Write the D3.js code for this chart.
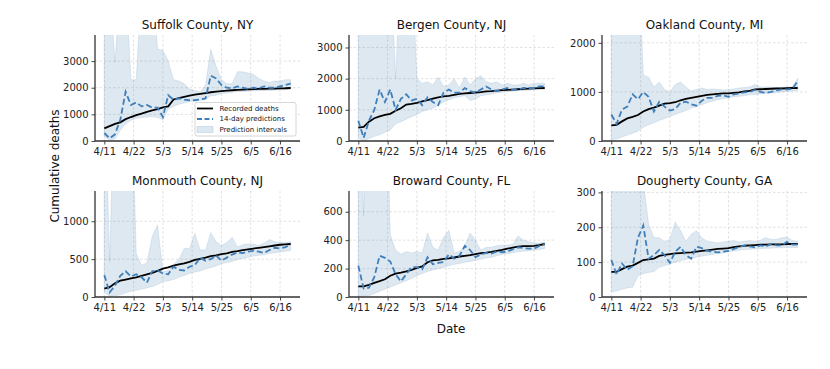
<!DOCTYPE html>
<html>
<head>
<meta charset="utf-8">
<script src="https://cdn.jsdelivr.net/npm/d3@7"></script>
<style>
  body { margin: 0; background: #fff; }
  svg { font-family: "DejaVu Sans", sans-serif; }
</style>
</head>
<body>
<svg id="chart" width="830" height="369"></svg>
<script>
// ---------------- DATA ----------------
const dates = ["4/11","4/13","4/15","4/17","4/19","4/21","4/23","4/25","4/27","4/29",
  "5/1","5/3","5/5","5/7","5/9","5/11","5/13","5/15","5/17","5/19",
  "5/21","5/23","5/25","5/27","5/29","5/31","6/2","6/4","6/6","6/8",
  "6/10","6/12","6/14","6/16","6/18","6/20"];
const xTickLabels = ["4/11","4/22","5/3","5/14","5/25","6/5","6/16"];

const counties = ["Suffolk County, NY","Bergen County, NJ","Oakland County, MI",
  "Monmouth County, NJ","Broward County, FL","Dougherty County, GA"];

const suffolkRecorded = [475,560,640,700,820,900,970,1030,1090,1150,1200,1260,1300,1560,1610,1660,1700,1740,1770,1800,1830,1850,1870,1890,1905,1920,1930,1940,1950,1955,1960,1965,1970,1975,1980,1990];
const suffolkPred     = [300,100,250,800,1850,1350,1450,1300,1350,1250,1250,900,1720,1550,1600,1550,1530,1530,1560,1600,2450,2350,2100,2000,1980,2050,2000,1950,2000,1980,2050,2000,2000,2050,2100,2150];
const suffolkLower    = [150,30,80,400,650,780,850,880,900,920,880,800,1200,1300,1380,1430,1480,1500,1520,1560,1700,1720,1780,1800,1830,1850,1860,1870,1880,1890,1900,1900,1910,1920,1930,1950];
const suffolkUpper    = [6000,6000,2950,6000,6000,2300,2300,6000,6000,6000,3450,3400,3000,2300,2250,2150,1950,1900,1850,2100,3450,2800,2300,2150,2150,2600,2600,2550,2500,2350,2250,2200,2250,2250,2300,2300];

const bergenRecorded = [430,450,620,730,790,840,870,970,1050,1170,1190,1220,1270,1310,1360,1400,1430,1450,1480,1510,1525,1540,1555,1570,1590,1600,1615,1630,1640,1650,1660,1670,1680,1690,1695,1700];
const bergenPred     = [650,100,650,1000,1650,1250,1650,1000,1350,1500,1300,1350,1150,1400,1250,1150,1550,1650,1550,1550,1700,1600,1550,1650,1750,1650,1600,1650,1700,1650,1650,1700,1700,1700,1750,1750];
const bergenLower    = [100,0,80,150,200,280,350,550,620,700,780,850,950,1000,1050,1150,1250,1320,1380,1420,1450,1300,1350,1450,1480,1500,1550,1560,1580,1600,1610,1620,1630,1640,1650,1660];
const bergenUpper    = [6000,6000,6000,6000,6000,6000,6000,2000,6000,6000,6000,2000,1850,1900,1800,2050,1750,1800,2000,1700,2050,1800,2000,2100,1900,1850,1900,1800,1850,1800,1800,1850,1800,1850,1850,1850];

const oaklandRecorded = [320,330,400,460,490,530,600,650,680,720,760,770,790,830,860,880,900,920,940,950,960,970,970,980,990,1010,1020,1050,1055,1060,1065,1070,1070,1075,1080,1080];
const oaklandPred     = [540,350,640,700,950,850,1000,900,600,800,700,620,650,780,800,750,720,820,880,880,920,930,900,950,970,990,1000,1040,1000,980,1000,1030,1050,1050,1060,1220];
const oaklandLower    = [30,40,80,120,160,200,280,330,370,420,460,500,540,580,620,670,700,740,780,810,840,860,880,900,910,920,940,950,960,970,980,990,1000,1010,1020,1030];
const oaklandUpper    = [4000,4000,4000,4000,4000,4000,1350,1300,1100,1200,1050,1000,1150,1200,1100,1020,1050,1080,1050,1060,1050,1040,1050,1060,1080,1090,1100,1150,1100,1100,1100,1090,1090,1100,1100,1280];

const monmouthRecorded = [110,130,180,215,230,245,260,280,300,320,345,375,390,415,430,445,465,490,505,520,540,550,565,575,595,605,620,630,640,650,660,670,680,690,695,700];
const monmouthPred     = [290,60,150,280,340,270,300,260,190,340,350,310,300,400,360,350,400,420,520,480,500,550,480,520,560,590,580,600,610,600,580,620,650,640,660,690];
const monmouthLower    = [60,10,15,30,55,75,90,105,120,140,165,200,215,230,260,285,310,330,345,370,390,410,440,455,470,495,510,525,540,550,560,575,585,595,605,615];
const monmouthUpper    = [3000,470,3000,3000,3000,3000,570,420,450,800,950,330,350,430,500,640,640,840,620,620,850,730,680,720,790,660,690,700,700,680,710,760,730,720,720,730];

const browardRecorded = [75,75,85,100,112,125,150,165,172,180,190,205,215,245,258,262,268,272,278,285,290,295,302,308,312,318,325,332,340,348,355,358,358,360,365,373];
const browardPred     = [220,60,65,140,290,275,250,160,110,160,210,210,195,280,230,240,245,300,270,290,360,330,280,300,310,305,320,315,320,335,350,345,340,340,360,370];
const browardLower    = [5,5,10,25,40,55,70,85,100,115,130,150,165,180,190,200,210,220,230,235,245,250,258,265,275,280,290,300,305,312,318,322,326,330,335,340];
const browardUpper    = [2000,570,2000,2000,2000,2000,440,330,300,320,310,320,310,450,350,330,420,470,310,320,360,450,400,330,350,350,360,365,365,370,430,400,390,380,380,385];

const doughertyRecorded = [72,72,80,87,90,98,106,108,110,118,121,123,125,126,127,128,130,132,134,136,138,139,140,143,145,147,148,149,150,150,151,151,151,152,152,152];
const doughertyPred     = [106,65,96,78,88,170,205,110,120,135,120,98,130,144,120,110,144,140,132,130,128,130,132,138,143,148,145,142,148,145,152,148,148,158,150,150];
const doughertyLower    = [15,17,22,26,28,60,67,70,73,85,90,95,100,104,108,111,114,117,120,122,124,126,129,132,134,136,137,138,139,140,140,141,141,142,142,142];
const doughertyUpper    = [500,500,500,500,500,400,330,210,170,170,160,165,215,190,160,180,190,170,160,158,155,158,160,162,158,160,162,160,163,170,165,165,170,172,162,160];

const yTicksList = [[0,1000,2000,3000],[0,1000,2000,3000],[0,1000,2000],
                    [0,500,1000],[0,200,400,600],[0,100,200,300]];

const legendLabels = ["Recorded deaths","14-day predictions","Prediction intervals"];

// ---------------- BUILD ----------------
const seriesByCounty = [
  [suffolkRecorded, suffolkPred, suffolkLower, suffolkUpper],
  [bergenRecorded, bergenPred, bergenLower, bergenUpper],
  [oaklandRecorded, oaklandPred, oaklandLower, oaklandUpper],
  [monmouthRecorded, monmouthPred, monmouthLower, monmouthUpper],
  [browardRecorded, browardPred, browardLower, browardUpper],
  [doughertyRecorded, doughertyPred, doughertyLower, doughertyUpper]
];

const parseMD = s => { const [m, d] = s.split("/").map(Number); return new Date(2020, m - 1, d); };
const xDates = dates.map(parseMD);

const svg = d3.select("#chart");
const colLeft = [95, 349, 602];
const rowTop = [35, 191];
const W = 205, H = 106;
const predColor = "#3f7fba";
const bandFill = "rgb(70,130,180)";

const x = d3.scaleTime()
  .domain([new Date(2020, 3, 7, 12), new Date(2020, 5, 23, 12)])
  .range([0, W]);
const xTickDates = xTickLabels.map(parseMD);

counties.forEach((name, i) => {
  const [rec, pred, lo, up] = seriesByCounty[i];
  const gx = colLeft[i % 3], gy = rowTop[Math.floor(i / 3)];
  const g = svg.append("g").attr("transform", `translate(${gx},${gy})`);
  const y = d3.scaleLinear().domain([0, 2 * d3.max(rec)]).range([H, 0]);

  const clipId = "clip" + i;
  g.append("clipPath").attr("id", clipId).append("rect")
    .attr("x", 0).attr("y", 0).attr("width", W).attr("height", H);

  // grid
  const grid = g.append("g");
  grid.selectAll(".gx").data(xTickDates).join("line")
    .attr("x1", d => x(d)).attr("x2", d => x(d)).attr("y1", 0).attr("y2", H)
    .attr("stroke", "#d4d4d4").attr("stroke-width", 0.7).attr("stroke-dasharray", "2.5,2");
  grid.selectAll(".gy").data(yTicksList[i].filter(v => v > 0)).join("line")
    .attr("x1", 0).attr("x2", W).attr("y1", d => y(d)).attr("y2", d => y(d))
    .attr("stroke", "#d4d4d4").attr("stroke-width", 0.7).attr("stroke-dasharray", "2.5,2");

  const plot = g.append("g").attr("clip-path", `url(#${clipId})`);
  const area = d3.area().x((d, k) => x(xDates[k])).y0((d, k) => y(lo[k])).y1((d, k) => y(up[k]));
  plot.append("path").datum(rec).attr("d", area)
    .attr("fill", bandFill).attr("fill-opacity", 0.18)
    .attr("stroke", bandFill).attr("stroke-opacity", 0.18).attr("stroke-width", 0.8);

  const line = arr => d3.line().x((d, k) => x(xDates[k])).y(d => y(d))(arr);
  plot.append("path").attr("d", line(rec)).attr("fill", "none")
    .attr("stroke", "#000").attr("stroke-width", 1.8);
  plot.append("path").attr("d", line(pred)).attr("fill", "none")
    .attr("stroke", predColor).attr("stroke-width", 1.8).attr("stroke-dasharray", "6,3");

  // axes
  const xAxis = d3.axisBottom(x).tickValues(xTickDates)
    .tickFormat((d, k) => xTickLabels[k]).tickSizeOuter(0).tickSize(3.5).tickPadding(3);
  const ax = g.append("g").attr("transform", `translate(0,${H})`).call(xAxis);
  const yAxis = d3.axisLeft(y).tickValues(yTicksList[i]).tickFormat(d3.format("d"))
    .tickSizeOuter(0).tickSize(3.5).tickPadding(3);
  const ay = g.append("g").call(yAxis);
  [ax, ay].forEach(a => {
    a.select(".domain").attr("stroke", "#333").attr("stroke-width", 1.3);
    a.selectAll(".tick line").attr("stroke", "#333").attr("stroke-width", 0.9);
    a.selectAll(".tick text").attr("font-size", 10).attr("fill", "#222")
      .attr("font-family", "DejaVu Sans, sans-serif");
  });
  ay.select(".domain").attr("d", `M0,${H}V0`);
  ax.select(".domain").attr("d", `M0,0H${W}`);

  g.append("text").attr("x", W / 2).attr("y", -6).attr("text-anchor", "middle")
    .attr("font-size", 12).attr("fill", "#111").text(name);

  if (i === 0) {
    const lg = g.append("g").attr("transform", `translate(${195 - gx},${102.5 - gy})`);
    lg.append("rect").attr("width", 101).attr("height", 33.5).attr("rx", 2)
      .attr("fill", "#fff").attr("fill-opacity", 0.85)
      .attr("stroke", "#cccccc").attr("stroke-width", 0.8);
    const rows = [6, 16.5, 27];
    lg.append("line").attr("x1", 2).attr("x2", 18).attr("y1", rows[0]).attr("y2", rows[0])
      .attr("stroke", "#000").attr("stroke-width", 1.8);
    lg.append("line").attr("x1", 2).attr("x2", 18).attr("y1", rows[1]).attr("y2", rows[1])
      .attr("stroke", predColor).attr("stroke-width", 1.8).attr("stroke-dasharray", "5,2.5");
    lg.append("rect").attr("x", 2).attr("y", rows[2] - 3).attr("width", 16).attr("height", 6)
      .attr("fill", bandFill).attr("fill-opacity", 0.18)
      .attr("stroke", bandFill).attr("stroke-opacity", 0.18);
    legendLabels.forEach((t, k) => {
      lg.append("text").attr("x", 24.5).attr("y", rows[k]).attr("dy", "0.35em")
        .attr("font-size", 7).attr("fill", "#111").text(t);
    });
  }
});

svg.append("text").attr("transform", "translate(59,166) rotate(-90)")
  .attr("text-anchor", "middle").attr("font-size", 12).attr("fill", "#111")
  .text("Cumulative deaths");
svg.append("text").attr("x", 451).attr("y", 333).attr("text-anchor", "middle")
  .attr("font-size", 12).attr("fill", "#111").text("Date");
</script>
</body>
</html>
